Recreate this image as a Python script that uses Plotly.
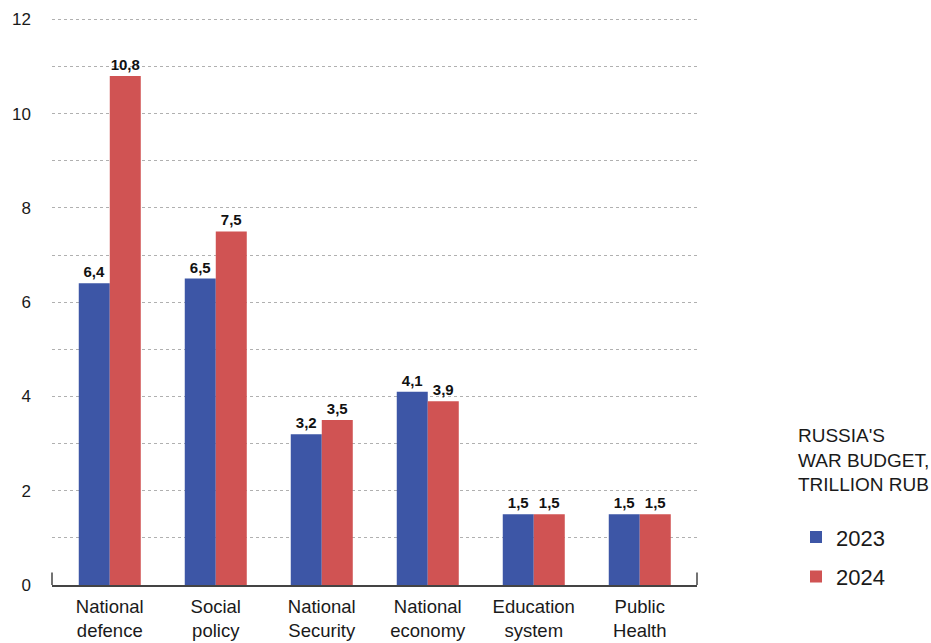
import plotly.graph_objects as go

categories = ["National<br>defence", "Social<br>policy", "National<br>Security",
              "National<br>economy", "Education<br>system", "Public<br>Health"]
values_2023 = [6.4, 6.5, 3.2, 4.1, 1.5, 1.5]
values_2024 = [10.8, 7.5, 3.5, 3.9, 1.5, 1.5]
series_names = ["2023", "2024"]
y_ticks = [0, 2, 4, 6, 8, 10, 12]

BLUE = "#3d56a6"
RED = "#d05353"
FONT = "Liberation Sans, Arial, sans-serif"
LABEL_FONT = dict(family="Liberation Sans Narrow, Arial Narrow, Liberation Sans, sans-serif",
                  size=15, color="#111111", weight="bold")

fig = go.Figure()
for name, vals, col in [(series_names[0], values_2023, BLUE), (series_names[1], values_2024, RED)]:
    fig.add_trace(go.Bar(
        x=categories, y=vals, name=name, legendgroup=name,
        marker=dict(color=col, line=dict(width=0)),
        texttemplate="%{y:.1f}", textposition="outside", textfont=LABEL_FONT,
        cliponaxis=False,
    ))

fig.update_layout(
    width=931, height=643,
    margin=dict(l=52, r=234, t=17, b=58),
    paper_bgcolor="white", plot_bgcolor="white",
    separators=", ",
    barmode="group", bargap=0.415, bargroupgap=0,
    font=dict(family=FONT, color="#1a1a1a"),
    legend=dict(
        title=dict(text="RUSSIA'S<br>WAR BUDGET,<br>TRILLION RUB<br> ",
                   font=dict(size=19, color="#1a1a1a")),
        font=dict(size=22, color="#1a1a1a"),
        traceorder="grouped", tracegroupgap=8,
        xref="container", yref="container", x=0.855, y=0.351,
        xanchor="left", yanchor="top", bgcolor="rgba(0,0,0,0)",
    ),
    xaxis=dict(
        range=[-0.545, 5.54], showgrid=False, showline=True, linecolor="#444444", linewidth=1.5,
        ticks="", tickfont=dict(size=18.5, color="#1a1a1a"), ticklabelstandoff=4, zeroline=False,
        automargin=False,
    ),
    yaxis=dict(
        range=[0, 12.05], tickvals=y_ticks, showgrid=True, gridcolor="#b0b0b0", griddash="dot", gridwidth=1,
        minor=dict(dtick=1, showgrid=True, gridcolor="#b0b0b0", griddash="dot", gridwidth=1),
        zeroline=False, showline=False, ticks="", tickfont=dict(size=17, color="#1a1a1a"),
        ticklabelstandoff=20, automargin=False,
    ),
)

# small end ticks of the x-axis line
for xp in [0, 1]:
    fig.add_shape(type="line", xref="paper", yref="paper", x0=xp, x1=xp, y0=0, y1=0.022,
                  line=dict(color="#444444", width=1.5))

fig.write_html("out.html", config={"displayModeBar": False},
               post_script="document.body.style.margin='0';document.body.style.overflow='hidden';")
